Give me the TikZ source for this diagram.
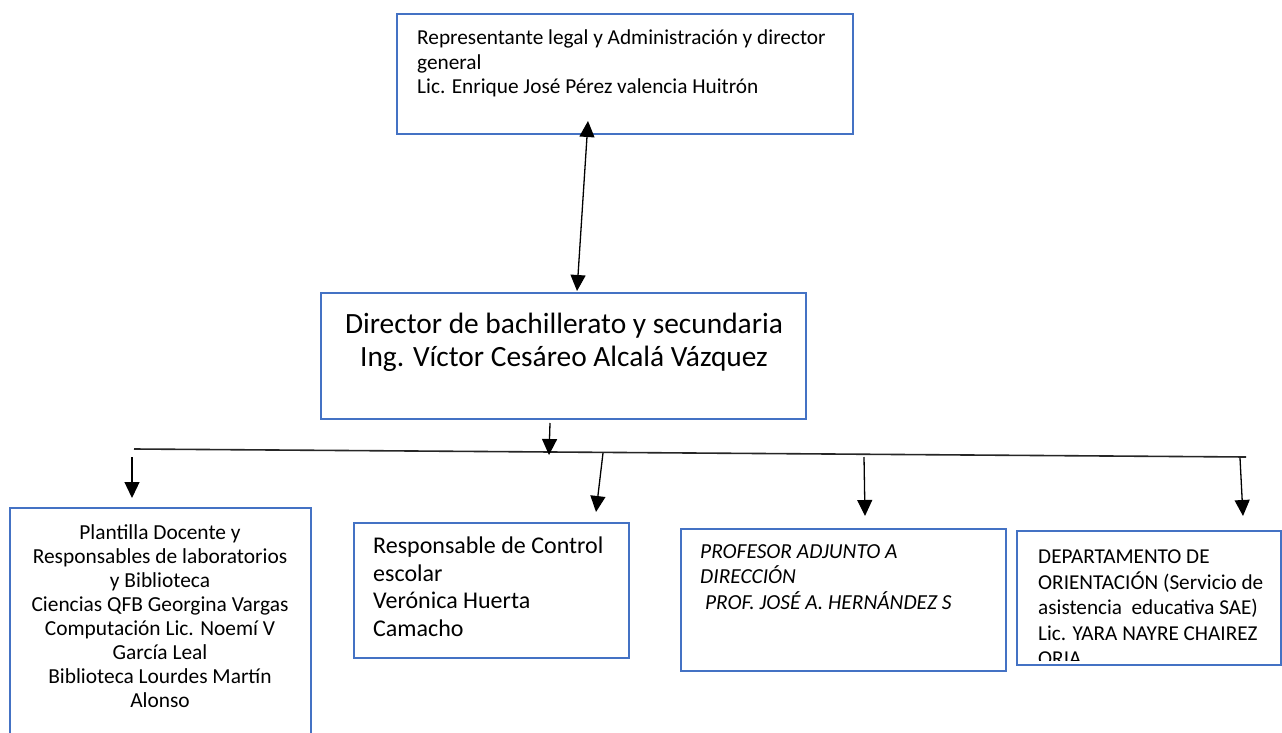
\documentclass[tikz,border=0pt]{standalone}
\usepackage{fontspec}
\setmainfont{Carlito}
\usetikzlibrary{arrows.meta}
\definecolor{azul}{HTML}{4472C4}
\begin{document}
\begin{tikzpicture}[x=1pt,y=-1pt]
  \tikzstyle{cuadro}=[draw=azul, line width=2pt, inner sep=0pt, anchor=north west]
  \tikzstyle{texto}=[inner sep=0pt, align=left, anchor=north west]
  \tikzstyle{flecha}=[black, line width=1.3pt, -{Triangle[length=16pt,width=15pt]}]
  \clip (0,0) rectangle (1282,733);
  \fill [white] (0,0) rectangle (1282,733);
  \node [cuadro, minimum width=456pt, minimum height=120pt] (rep) at (396,13) {};
  \node [texto, font=\fontsize{21.3}{24.5}\selectfont] (rep-t) at (417,30)
    {Representante legal y Administración y director\\general\\Lic. Enrique José Pérez valencia Huitrón};
  \node [cuadro, minimum width=485pt, minimum height=126pt] (dir) at (320,292) {};
  \node [texto, anchor=north, align=center, font=\fontsize{29.4}{33}\selectfont] (dir-t) at (564,313)
    {Director de bachillerato y secundaria\\ Ing. Víctor Cesáreo Alcalá Vázquez};
  \node [cuadro, minimum width=301pt, minimum height=260pt] (doc) at (9,507) {};
  \node [texto, anchor=north, align=center, font=\fontsize{21.4}{24}\selectfont] (doc-t) at (160,524)
    {Plantilla Docente y\\Responsables de laboratorios\\y Biblioteca\\Ciencias QFB Georgina Vargas\\Computación Lic. Noemí V\\García Leal\\Biblioteca Lourdes Martín\\Alonso};
  \node [cuadro, minimum width=275pt, minimum height=135pt] (esc) at (353,522) {};
  \node [texto, font=\fontsize{24}{27.5}\selectfont] (esc-t) at (373,537)
    {Responsable de Control\\escolar\\Verónica Huerta\\Camacho};
  \node [cuadro, minimum width=325pt, minimum height=142pt] (adj) at (680,528) {};
  \node [texto, font=\fontsize{21.4}{25.5}\selectfont\itshape] (adj-t) at (700,544)
    {PROFESOR ADJUNTO A\\DIRECCIÓN\\ \ PROF. JOSÉ A. HERNÁNDEZ S};
  \node [cuadro, minimum width=264pt, minimum height=134pt] (ori) at (1016,530) {};
  \begin{scope}
    \clip (ori.north west) rectangle ([yshift=6pt]ori.south east);
    \node [texto, font=\fontsize{21.2}{25.4}\selectfont] (ori-t) at (1038,550)
      {DEPARTAMENTO DE\\ORIENTACIÓN (Servicio de\\asistencia\ \ educativa SAE)\\Lic. YARA NAYRE CHAIREZ\\ORIA};
  \end{scope}
  \coordinate (r1) at (588,121);
  \coordinate (r2) at (577,291);
  \draw [black, line width=1.3pt, {Triangle[length=16pt,width=15pt]}-{Triangle[length=16pt,width=15pt]}] (r1) -- (r2);
  \coordinate (b1) at (134,449);
  \coordinate (b2) at (1246,457);
  \draw [black!85, line width=1.6pt] (b1) -- (b2);
  \coordinate (d0) at (550,423);
  \coordinate (d1) at (549,455);
  \draw [flecha] (d0) -- (d1);
  \coordinate (s1) at (132,457);
  \coordinate (t1) at (132,498);
  \draw [flecha] (s1) -- (t1);
  \coordinate (s2) at (603,453);
  \coordinate (t2) at (596,512);
  \draw [flecha] (s2) -- (t2);
  \coordinate (s3) at (864,457);
  \coordinate (t3) at (865,516);
  \draw [flecha] (s3) -- (t3);
  \coordinate (s4) at (1240,458);
  \coordinate (t4) at (1243,516);
  \draw [flecha] (s4) -- (t4);
\end{tikzpicture}
\end{document}
